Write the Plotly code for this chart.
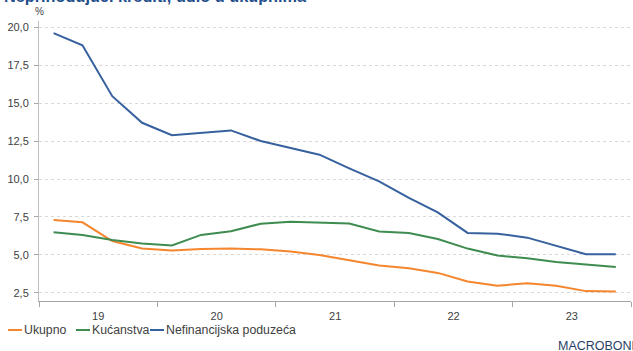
import plotly.graph_objects as go

# Quarterly observations, plotted at the middle of each quarter
quarters = [
    "2019-02-15", "2019-05-15", "2019-08-15", "2019-11-15",
    "2020-02-15", "2020-05-15", "2020-08-15", "2020-11-15",
    "2021-02-15", "2021-05-15", "2021-08-15", "2021-11-15",
    "2022-02-15", "2022-05-15", "2022-08-15", "2022-11-15",
    "2023-02-15", "2023-05-15", "2023-08-15", "2023-11-15",
]
ukupno = [7.3, 7.15, 5.92, 5.42, 5.3, 5.4, 5.43, 5.37, 5.22, 5.0,
          4.65, 4.3, 4.12, 3.82, 3.25, 2.98, 3.14, 2.97, 2.62, 2.6]
kucanstva = [6.49, 6.32, 5.99, 5.75, 5.62, 6.32, 6.56, 7.06, 7.18, 7.13,
             7.07, 6.55, 6.45, 6.05, 5.42, 4.96, 4.78, 4.54, 4.36, 4.2]
nefinancijska = [19.6, 18.8, 15.45, 13.7, 12.88, 13.05, 13.2, 12.5, 12.05, 11.6,
                 10.7, 9.85, 8.75, 7.8, 6.45, 6.4, 6.14, 5.6, 5.05, 5.05]

series_names = ["Ukupno", "Kućanstva", "Nefinancijska poduzeća"]
series_colors = ["#f5862e", "#3e8c50", "#36619e"]
y_ticks = [2.5, 5.0, 7.5, 10.0, 12.5, 15.0, 17.5, 20.0]

FONT = "Liberation Sans, Arial, sans-serif"

fig = go.Figure()
for name, vals, col in zip(series_names, [ukupno, kucanstva, nefinancijska], series_colors):
    fig.add_trace(go.Scatter(x=quarters, y=vals, mode="lines", name=name,
                             line=dict(color=col, width=2), showlegend=False))

fig.update_layout(
    width=633, height=351,
    margin=dict(l=39, r=2, t=21, b=50),
    paper_bgcolor="white", plot_bgcolor="white",
    separators=",.",
    font=dict(family=FONT, size=11, color="#404040"),
    xaxis=dict(
        type="date", range=["2019-01-01", "2024-01-01"],
        dtick="M12", tick0="2019-01-01", tickformat="%y", ticklabelmode="period",
        ticks="outside", ticklen=5, tickcolor="#a6a6a6",
        showline=True, linecolor="#a6a6a6", linewidth=1,
        showgrid=False, zeroline=False,
        tickfont=dict(size=11, color="#404040"),
    ),
    yaxis=dict(
        range=[1.97, 20.4], tickvals=y_ticks, tickformat=".1f",
        ticks="outside", ticklen=4, tickcolor="#a6a6a6",
        showline=True, linecolor="#bfbfbf", linewidth=1,
        showgrid=True, gridcolor="#d9d9d9", griddash="dot", gridwidth=1,
        zeroline=False, ticklabelstandoff=3,
        tickfont=dict(size=11, color="#404040"),
    ),
)

# Title, unit label and source mark
fig.add_annotation(text="<b>Neprihodujući krediti, udio u ukupnima</b>",
                   xref="paper", yref="paper", x=-37/592, y=1.05,
                   xanchor="left", yanchor="bottom", showarrow=False,
                   font=dict(family=FONT, size=16.3, color="#1f4e8c"))
fig.add_annotation(text="%", xref="paper", yref="paper", x=0, y=1.008,
                   xanchor="center", yanchor="bottom", showarrow=False,
                   font=dict(family=FONT, size=10, color="#404040"))
fig.add_annotation(text="MACROBOND", xref="paper", yref="paper", x=1.02, y=-0.13,
                   xanchor="right", yanchor="top", showarrow=False,
                   font=dict(family=FONT, size=12.5, color="#2a3f66"))

# Legend drawn as short colour strokes with labels
legend_x = [8, 76, 150]
legend_y = 330
for lx, name, col in zip(legend_x, series_names, series_colors):
    fig.add_shape(type="line", xref="paper", yref="paper",
                  x0=(lx - 39) / 592, x1=(lx + 14 - 39) / 592,
                  y0=(301 - legend_y) / 280, y1=(301 - legend_y) / 280,
                  line=dict(color=col, width=2))
    fig.add_annotation(text=name, xref="paper", yref="paper",
                       x=(lx + 14 - 39) / 592, y=(301 - legend_y) / 280,
                       xanchor="left", yanchor="middle", showarrow=False,
                       font=dict(family=FONT, size=12.3, color="#404040"))

fig.write_html("out.html")
